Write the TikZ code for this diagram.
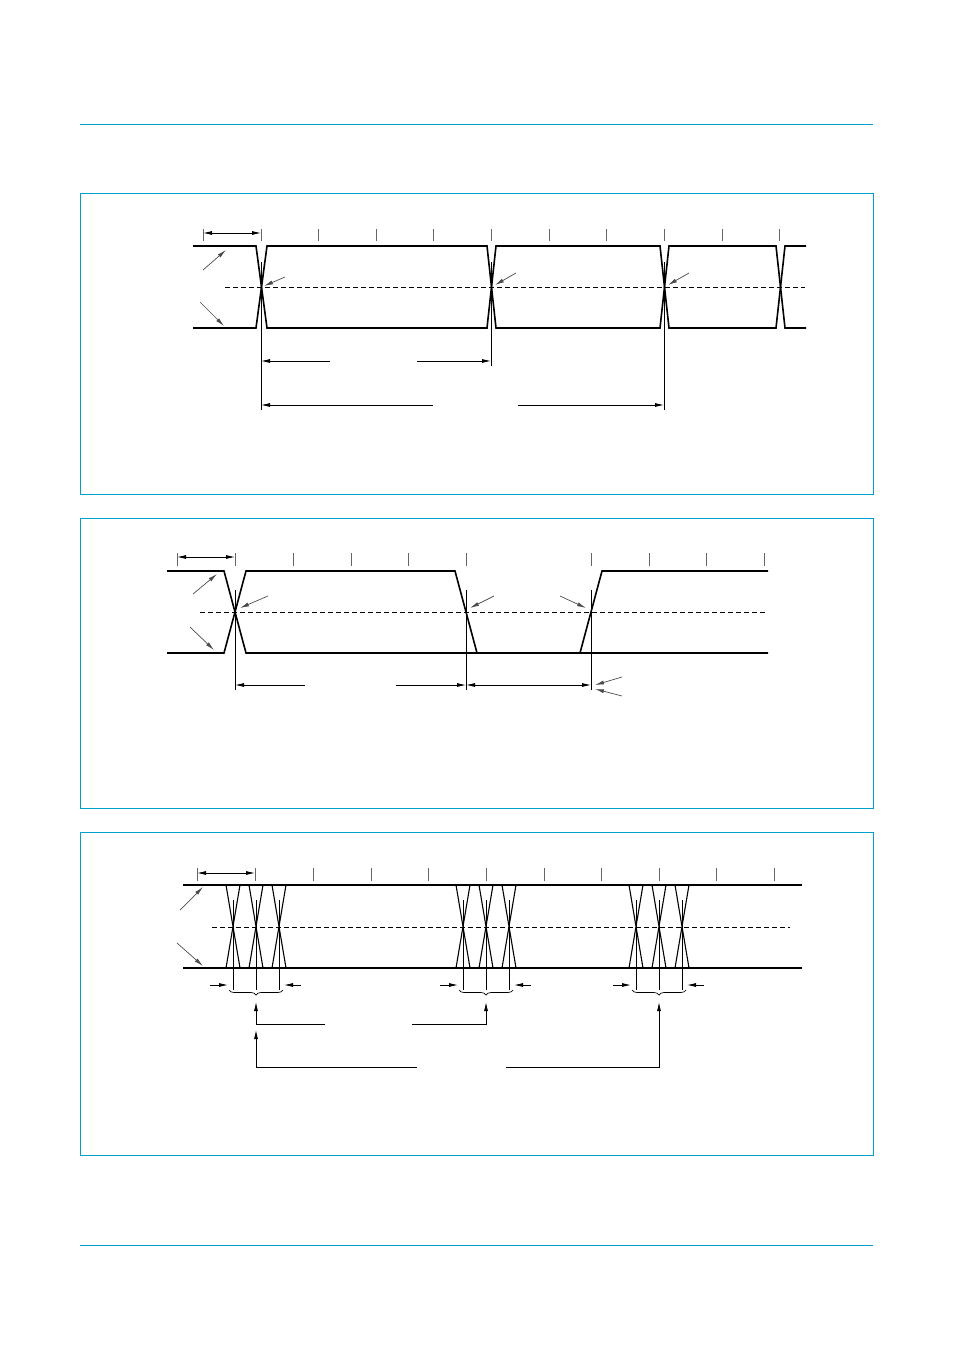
\documentclass[tikz,border=0pt]{standalone}
\usetikzlibrary{arrows.meta,decorations.pathreplacing}
\definecolor{cy}{RGB}{0,160,200}
\begin{document}
\begin{tikzpicture}[x=1pt,y=-1pt,
 wave/.style={line width=1.6pt,line join=miter},
 thin/.style={line width=0.8pt},
 tick/.style={line width=0.5pt,black!60},
 ar/.style={line width=0.8pt,-{Latex[length=9pt,width=4pt]}},
 dar/.style={line width=0.8pt,{Latex[length=9pt,width=4pt]}-{Latex[length=9pt,width=4pt]}},
 gar/.style={line width=0.7pt,black!70,-{Latex[length=9pt,width=4pt]}},
 mid/.style={line width=0.8pt,dash pattern=on 5pt off 3pt},
 frame/.style={draw=cy,line width=0.8pt}]
\useasboundingbox (0,0) rectangle (954,1351);
\draw[cy,line width=0.8pt] (80,124)--(873,124) (80,1245)--(873,1245);
\draw[frame] (80,193) rectangle (873,494);
\draw[frame] (80,518) rectangle (873,808);
\draw[frame] (80,832) rectangle (873,1155);
% ---- panel 1
\foreach \x in {203,261,318,376,433,491,549,606,664,722,779} \draw[tick] (\x,229)--(\x,241);
\draw[dar] (203,233)--(261,233);
\draw[mid] (225,287)--(805,287);
\draw[wave] (193,246)--(256,246)--(267,328)--(487,328)--(496,246)--(660,246)--(669,328)--(776,328)--(785,246)--(806,246);
\draw[wave] (193,328)--(256,328)--(267,246)--(487,246)--(496,328)--(660,328)--(669,246)--(776,246)--(785,328)--(806,328);
\draw[gar] (203,270)--(226,250);
\draw[gar] (200,302)--(224,326);
\draw[gar] (285,277)--(264,286);
\draw[gar] (516,273)--(495,285);
\draw[gar] (689,273)--(668,285);
\draw[thin] (261,262)--(261,410) (491,262)--(491,366) (664,262)--(664,410);
\draw[ar] (330,361)--(261,361);
\draw[ar] (417,361)--(491,361);
\draw[ar] (433,405)--(261,405);
\draw[ar] (518,405)--(664,405);
% ---- panel 2
\foreach \x in {177,235,293,351,408,466,591,649,706,764} \draw[tick] (\x,553)--(\x,566);
\draw[dar] (177,557)--(235,557);
\draw[mid] (200,612)--(767,612);
\draw[wave] (167,571)--(224,571)--(246,653)--(768,653);
\draw[wave] (167,653)--(224,653)--(246,571)--(455,571)--(477,653);
\draw[wave] (580,653)--(602,571)--(768,571);
\draw[gar] (193,594)--(217,574);
\draw[gar] (190,627)--(214,650);
\draw[gar] (268,596)--(240,608);
\draw[gar] (494,596)--(470,608);
\draw[gar] (560,596)--(586,608);
\draw[thin] (235,590)--(235,690) (466,590)--(466,690) (591,590)--(591,690);
\draw[ar] (305,685)--(235,685);
\draw[ar] (396,685)--(466,685);
\draw[dar] (466,685)--(591,685);
\draw[gar] (622,677)--(595,685);
\draw[gar] (622,696)--(595,689);
% ---- panel 3
\foreach \x in {197,255,313,371,428,486,544,601,659,716,774} \draw[tick] (\x,868)--(\x,881);
\draw[dar] (197,873)--(255,873);
\draw[mid] (212,927)--(790,927);
\draw[wave] (183,885)--(802,885) (183,968)--(802,968);
\foreach \c in {233,256,279,463,486,509,636,659,682}{
  \draw[line width=1.1pt] (\c-7,885)--(\c+7,968) (\c+7,885)--(\c-7,968);
  \draw[line width=0.7pt] (\c,900)--(\c,990);
}
\draw[gar] (180,910)--(203,887);
\draw[gar] (177,943)--(203,966);
\foreach \a/\b in {229/283,459/513,632/686}{
  \draw[ar] (\a-19,985)--(\a-1,985);
  \draw[ar] (\b+18,985)--(\b+1,985);
  \draw[line width=0.7pt,decorate,decoration={brace,mirror,amplitude=5pt}] (\a,990)--(\b,990);
}
\draw[ar] (325,1024)--(256,1024)--(256,1002);
\draw[ar] (412,1024)--(486,1024)--(486,1002);
\draw[ar] (417,1067)--(256,1067)--(256,1030);
\draw[ar] (506,1067)--(659,1067)--(659,1002);
\end{tikzpicture}
\end{document}
